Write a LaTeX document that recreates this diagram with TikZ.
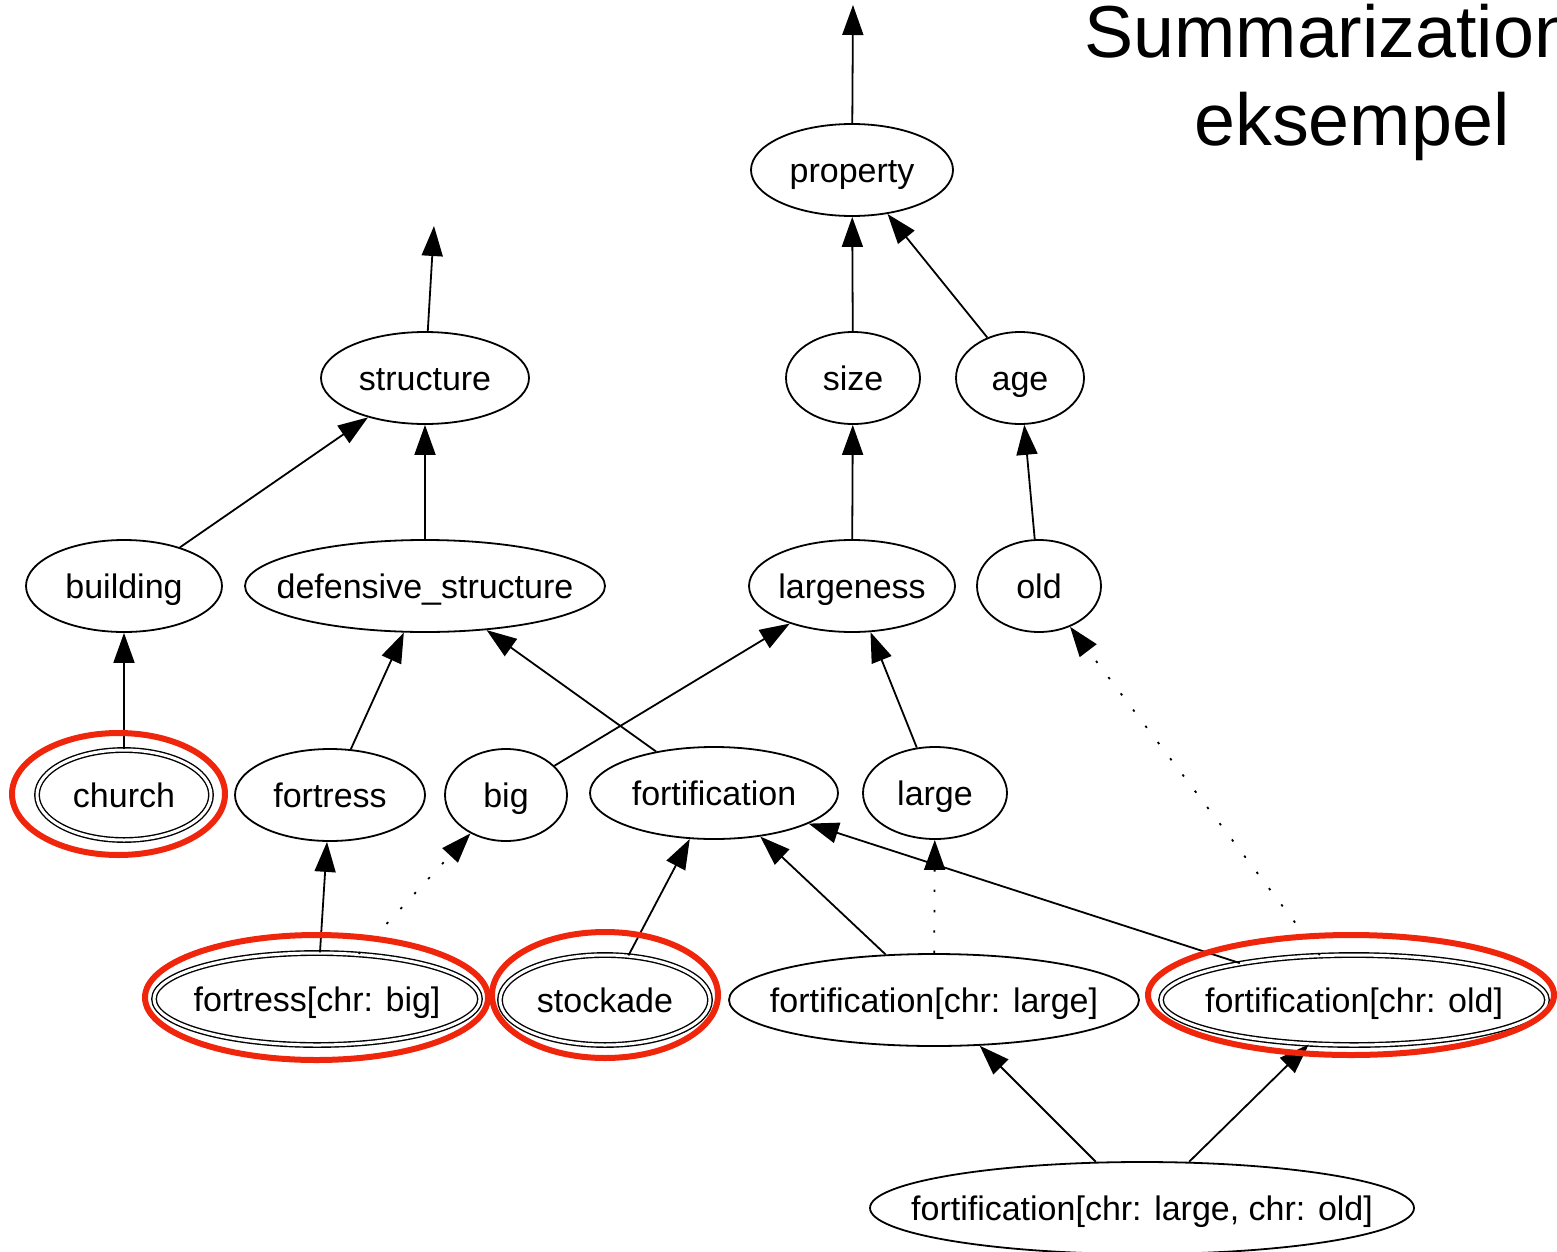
\documentclass[tikz,border=0pt]{standalone}
\usepackage{fontspec}
\setmainfont{Liberation Sans}
\usetikzlibrary{shapes.geometric,arrows.meta}
\definecolor{hlred}{RGB}{240,38,12}
% label of fixed-size ellipse nodes: zero width so the minimum size rules
\newcommand\lbl[1]{\makebox[0pt]{#1}}
\begin{document}
\begin{tikzpicture}[x=0.5pt,y=-0.5pt,
  gnode/.style={ellipse,draw,line width=0.9pt,inner sep=0pt,minimum height=46pt,
    text height=14pt,text depth=2pt,font=\fontsize{17}{20}\selectfont},
  dnode/.style={gnode,double,double distance=1.5pt,line width=0.7pt,minimum height=45pt},
  isa/.style={draw,line width=0.9pt,-{Triangle[length=15pt,width=10.5pt]}},
  weak/.style={isa,dash pattern=on 1.2pt off 9pt},
  ring/.style={draw=hlred,line width=3pt},
  titlefont/.style={font=\fontsize{36.8}{42}\selectfont,inner sep=0pt,anchor=base west}]
\useasboundingbox (0,0) rectangle (1557,1252);
\clip (0,0) rectangle (1557,1252);

% title
\node[titlefont] (title1) at (1084,58) {Summarization};
\node[titlefont] (title2) at (1194,145) {eksempel};

% concept hierarchy
\node[gnode,minimum width=101pt] (property) at (852,170) {\lbl{property}};
\node[gnode,minimum width=104pt] (structure) at (425,378) {\lbl{structure}};
\node[gnode,minimum width=67pt] (size) at (853,378) {\lbl{size}};
\node[gnode,minimum width=64pt] (age) at (1020,378) {\lbl{age}};
\node[gnode,minimum width=98pt] (building) at (124,586) {\lbl{building}};
\node[gnode,minimum width=180pt] (defensive) at (425,586) {\lbl{defensive\_structure}};
\node[gnode,minimum width=103pt] (largeness) at (852,586) {\lbl{largeness}};
\node[gnode,minimum width=62pt] (old) at (1039,586) {\lbl{old}};
\node[dnode,minimum width=87pt] (church) at (124,795) {\lbl{church}};
\node[gnode,minimum width=95pt] (fortress) at (330,795) {\lbl{fortress}};
\node[gnode,minimum width=61pt] (big) at (506,795) {\lbl{big}};
\node[gnode,minimum width=124pt] (fortification) at (714,793) {\lbl{fortification}};
\node[gnode,minimum width=72pt] (large) at (935,793) {\lbl{large}};
\node[dnode,minimum width=163pt,minimum height=46pt] (fbig) at (317,999) {\lbl{fortress[chr: big]}};
\node[dnode,minimum width=105pt] (stockade) at (605,1000) {\lbl{stockade}};
\node[gnode,minimum width=205pt] (flarge) at (934,1000) {\lbl{fortification[chr: large]}};
\node[dnode,minimum width=193pt] (fold) at (1354,1000) {\lbl{fortification[chr: old]}};
\node[gnode,minimum width=272pt] (fboth) at (1142,1208) {\lbl{fortification[chr: large, chr: old]}};

% open ends above the roots
\coordinate (ptop) at (853,5);
\coordinate (stop) at (434,226);

% is-a links
\draw[isa] (property) -- (ptop);
\draw[isa] (structure) -- (stop);
\draw[isa] (size) -- (property);
\draw[isa] (age) -- (property);
\draw[isa] (building) -- (structure);
\draw[isa] (defensive) -- (structure);
\draw[isa] (largeness) -- (size);
\draw[isa] (old) -- (age);
\draw[isa] (church) -- (building);
\draw[isa] (fortress) -- (defensive);
\draw[isa] (big) -- (largeness);
\draw[isa] (fortification) -- (defensive);
\draw[isa] (large) -- (largeness);
\draw[isa] (fbig) -- (fortress);
\draw[weak] (fbig) -- (big);
\draw[isa] (stockade) -- (fortification);
\draw[isa] (flarge) -- (fortification);
\draw[weak] (flarge) -- (large);
\draw[isa] (fold) -- (fortification);
\draw[weak] (fold) -- (old);
\draw[isa] (fboth) -- (flarge);
\draw[isa] (fboth) -- (fold);

% highlighted summary nodes
\draw[ring] (118.5,794) ellipse (53.25pt and 30.5pt);
\draw[ring] (316.5,997.5) ellipse (85.75pt and 31.25pt);
\draw[ring] (605,995) ellipse (56.5pt and 31.5pt);
\draw[ring] (1351,995) ellipse (101.5pt and 30pt);
\end{tikzpicture}
\end{document}
